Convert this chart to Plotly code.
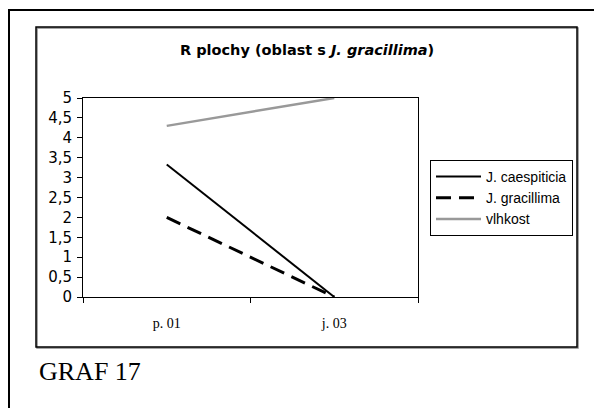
import plotly.graph_objects as go

categories = ["p. 01", "j. 03"]
caespiticia = [3.33, 0]
gracillima = [2.0, 0]
vlhkost = [4.3, 5.0]

W, H = 594, 408
L, R, T, B = 83, 418, 98, 297

def px(x):
    return (x - L) / (R - L)

def py(y):
    return (B - y) / (B - T)

fig = go.Figure()
fig.add_trace(go.Scatter(x=categories, y=caespiticia, mode="lines", name="J. caespiticia",
                         line=dict(color="black", width=2)))
fig.add_trace(go.Scatter(x=categories, y=gracillima, mode="lines", name="J. gracillima",
                         line=dict(color="black", width=3, dash="15px,8px")))
fig.add_trace(go.Scatter(x=categories, y=vlhkost, mode="lines", name="vlhkost",
                         line=dict(color="#999999", width=2.5)))

shapes = [
    # outer frame
    dict(type="rect", xref="paper", yref="paper", x0=px(9), x1=px(620), y0=py(430), y1=py(10),
         line=dict(color="black", width=2)),
    # inner chart frame shadow
    dict(type="rect", xref="paper", yref="paper", x0=px(37), x1=px(578), y0=py(348), y1=py(28),
         line=dict(color="#888888", width=1.5)),
    dict(type="rect", xref="paper", yref="paper", x0=px(36), x1=px(577), y0=py(347), y1=py(27),
         line=dict(color="black", width=1.5)),
]

annotations = [
    dict(text="<b>R plochy (oblast s <i>J. gracillima</i>)</b>", xref="paper", yref="paper",
         x=px(307), y=py(50), showarrow=False, xanchor="center", yanchor="middle",
         font=dict(family="DejaVu Sans", size=14.5, color="black")),
    dict(text="GRAF 17", xref="paper", yref="paper", x=px(37), y=py(371), showarrow=False,
         xanchor="left", yanchor="middle",
         font=dict(family="Liberation Serif, Times New Roman", size=26, color="black")),
]

fig.update_layout(
    width=W, height=H,
    margin=dict(l=L, r=W - R, t=T, b=H - B, pad=0),
    paper_bgcolor="white", plot_bgcolor="white",
    separators=", ",
    showlegend=True,
    legend=dict(x=px(430), y=py(160), xanchor="left", yanchor="top",
                bordercolor="black", borderwidth=1, bgcolor="white",
                font=dict(family="Liberation Sans, Arial", size=14, color="black"),
                itemwidth=45, tracegroupgap=0),
    shapes=shapes,
    annotations=annotations,
    xaxis=dict(type="category", range=[-0.5, 1.5], tickson="boundaries",
               ticks="outside", ticklen=5, tickcolor="black", tickwidth=1,
               showline=True, linecolor="black", linewidth=1, mirror=True,
               showgrid=False, zeroline=False, ticklabelstandoff=13,
               tickfont=dict(family="Liberation Serif, Times New Roman", size=14, color="black")),
    yaxis=dict(range=[0, 5], dtick=0.5, tick0=0,
               ticks="outside", ticklen=5, tickcolor="black", tickwidth=1,
               showline=True, linecolor="black", linewidth=1, mirror=True,
               showgrid=False, zeroline=False, ticklabelstandoff=2,
               tickfont=dict(family="DejaVu Sans", size=15, color="black")),
)

fig.write_html("out.html")
